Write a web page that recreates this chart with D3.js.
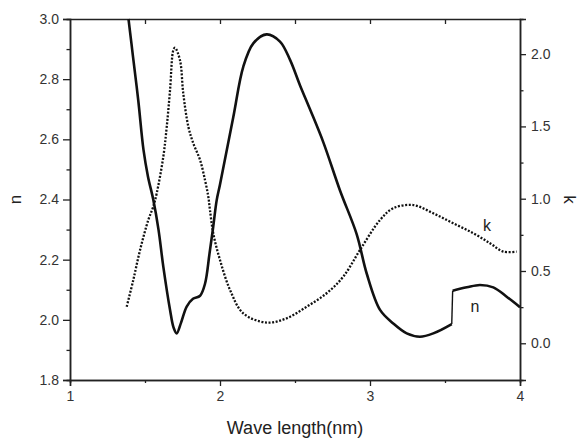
<!DOCTYPE html>
<html>
<head>
<meta charset="utf-8">
<script src="https://cdn.jsdelivr.net/npm/d3@7"></script>
<style>
  html, body { margin: 0; padding: 0; background: #fff; }
  svg { display: block; font-family: "Liberation Sans", Arial, sans-serif; }
</style>
</head>
<body>
<div id="chart"></div>
<script>
// refractive index n (left axis) vs wavelength
const nWave = [1.39, 1.41, 1.42, 1.455, 1.49, 1.52, 1.555, 1.59, 1.622, 1.667, 1.69, 1.711, 1.74, 1.778, 1.82, 1.867,
  1.90, 1.93, 1.955, 1.978, 2.0, 2.089, 2.155, 2.222, 2.311, 2.40, 2.467, 2.533, 2.60, 2.689, 2.80, 2.911, 2.978,
  3.067, 3.155, 3.245, 3.333, 3.422, 3.545, 3.551, 3.645, 3.733, 3.822, 3.911, 4.0];
const nValues = [3.00, 2.917, 2.875, 2.73, 2.565, 2.476, 2.40, 2.30, 2.177, 2.033, 1.975, 1.955, 1.99, 2.044, 2.07, 2.08,
  2.12, 2.22, 2.31, 2.398, 2.45, 2.675, 2.841, 2.919, 2.949, 2.925, 2.864, 2.78, 2.70, 2.59, 2.43, 2.285, 2.154,
  2.033, 1.988, 1.955, 1.944, 1.955, 1.986, 2.097, 2.108, 2.116, 2.108, 2.077, 2.042];

// extinction coefficient k (right axis)
const kWave = [1.378, 1.422, 1.467, 1.522, 1.555, 1.578, 1.622, 1.645, 1.667, 1.689, 1.70, 1.733, 1.755, 1.789, 1.822,
  1.867, 1.90, 1.922, 1.933, 1.955, 2.0, 2.067, 2.155, 2.311, 2.445, 2.578, 2.711, 2.822, 2.933, 3.067, 3.155, 3.289,
  3.422, 3.555, 3.689, 3.80, 3.889, 3.978];
const kValues = [0.253, 0.438, 0.645, 0.853, 0.945, 1.037, 1.29, 1.498, 1.752, 2.028, 2.044, 1.959, 1.729, 1.498, 1.383,
  1.268, 1.129, 1.014, 0.922, 0.761, 0.576, 0.369, 0.207, 0.143, 0.173, 0.253, 0.346, 0.461, 0.645, 0.853, 0.934, 0.956,
  0.899, 0.830, 0.761, 0.692, 0.634, 0.634];

const xTicks = [1, 2, 3, 4];
const xMinor = [1.5, 2.5, 3.5];
const nTicks = [1.8, 2.0, 2.2, 2.4, 2.6, 2.8, 3.0];
const nMinor = [1.9, 2.1, 2.3, 2.5, 2.7, 2.9];
const kTicks = [0.0, 0.5, 1.0, 1.5, 2.0];
const kMinor = [0.25, 0.75, 1.25, 1.75];

const width = 579, height = 439;
const margin = {top: 19, right: 59, bottom: 59, left: 70};
const axisColor = '#222';
const textColor = '#333';

const svg = d3.select('#chart').append('svg')
  .attr('width', width)
  .attr('height', height);

const x = d3.scaleLinear().domain([1, 4]).range([margin.left, width - margin.right]);
const yN = d3.scaleLinear().domain([1.8, 3.0]).range([height - margin.bottom, margin.top]);
const yK = d3.scaleLinear().domain([-0.254, 2.243]).range([height - margin.bottom, margin.top]);

function styleAxis(g) {
  g.select('.domain').attr('stroke', axisColor).attr('stroke-width', 1.5);
  g.selectAll('.tick line').attr('stroke', axisColor).attr('stroke-width', 1.3);
  g.selectAll('.tick text').attr('fill', textColor).style('font-size', '14px')
    .style('font-family', '"Liberation Sans", Arial, sans-serif');
}

const bottomY = height - margin.bottom;
const rightX = width - margin.right;

// bottom axis
svg.append('g')
  .attr('transform', `translate(0,${bottomY})`)
  .call(d3.axisBottom(x).tickValues(xTicks).tickSize(6).tickPadding(5).tickFormat(d3.format('d')))
  .call(styleAxis);
svg.append('g')
  .attr('transform', `translate(0,${bottomY})`)
  .call(d3.axisBottom(x).tickValues(xMinor).tickSize(3).tickFormat(''))
  .call(styleAxis);

// top axis, inward ticks
svg.append('g')
  .attr('transform', `translate(0,${margin.top})`)
  .call(d3.axisTop(x).tickValues([1.5, 2, 2.5, 3, 3.5]).tickSize(-5).tickSizeOuter(0).tickFormat(''))
  .call(styleAxis);

// left axis (n)
svg.append('g')
  .attr('transform', `translate(${margin.left},0)`)
  .call(d3.axisLeft(yN).tickValues(nTicks).tickSize(7).tickPadding(4).tickFormat(d3.format('.1f')))
  .call(styleAxis);
svg.append('g')
  .attr('transform', `translate(${margin.left},0)`)
  .call(d3.axisLeft(yN).tickValues(nMinor).tickSize(3.5).tickFormat(''))
  .call(styleAxis);

// right axis (k)
svg.append('g')
  .attr('transform', `translate(${rightX},0)`)
  .call(d3.axisRight(yK).tickValues(kTicks).tickSize(6).tickPadding(5).tickFormat(d3.format('.1f')))
  .call(styleAxis);
svg.append('g')
  .attr('transform', `translate(${rightX},0)`)
  .call(d3.axisRight(yK).tickValues(kMinor).tickSize(3.5).tickFormat(''))
  .call(styleAxis);

// curves
const nData = nWave.map((w, i) => ({x: w, y: nValues[i]}));
const kData = kWave.map((w, i) => ({x: w, y: kValues[i]}));

// n has a step near 3.55 nm: draw the smooth pieces separately and join them straight
const jump = nWave.findIndex((w, i) => i > 0 && w - nWave[i - 1] < 0.008);
const nPieces = [nData.slice(0, jump), nData.slice(jump)];

const nLine = d3.line()
  .x(d => x(d.x))
  .y(d => yN(d.y))
  .curve(d3.curveCatmullRom.alpha(0.5));

const kLine = d3.line()
  .x(d => x(d.x))
  .y(d => yK(d.y))
  .curve(d3.curveCatmullRom.alpha(0.5));

svg.append('path')
  .datum(kData)
  .attr('d', kLine)
  .attr('fill', 'none')
  .attr('stroke', '#111')
  .attr('stroke-width', 2.3)
  .attr('stroke-dasharray', '2,1.6');

svg.selectAll('path.n-piece')
  .data(nPieces)
  .join('path')
  .attr('class', 'n-piece')
  .attr('d', nLine)
  .attr('fill', 'none')
  .attr('stroke', '#111')
  .attr('stroke-width', 2.6)
  .attr('stroke-linejoin', 'round');

svg.append('path')
  .datum(nData.slice(jump - 1, jump + 1))
  .attr('d', d3.line().x(d => x(d.x)).y(d => yN(d.y)))
  .attr('fill', 'none')
  .attr('stroke', '#111')
  .attr('stroke-width', 1.4);

// curve labels
svg.append('text')
  .attr('x', x(3.78)).attr('y', yK(0.78))
  .attr('text-anchor', 'middle')
  .attr('fill', '#222')
  .style('font-size', '16px')
  .text('k');

svg.append('text')
  .attr('x', x(3.70)).attr('y', yN(2.025))
  .attr('text-anchor', 'middle')
  .attr('fill', '#222')
  .style('font-size', '16px')
  .text('n');

// axis titles
svg.append('text')
  .attr('x', (margin.left + rightX) / 2)
  .attr('y', 434)
  .attr('text-anchor', 'middle')
  .attr('fill', '#222')
  .style('font-size', '18px')
  .text('Wave length(nm)');

svg.append('text')
  .attr('transform', `translate(21,${(margin.top + bottomY) / 2}) rotate(-90)`)
  .attr('text-anchor', 'middle')
  .attr('fill', '#222')
  .style('font-size', '17px')
  .text('n');

svg.append('text')
  .attr('transform', `translate(564,${(margin.top + bottomY) / 2}) rotate(90)`)
  .attr('text-anchor', 'middle')
  .attr('fill', '#222')
  .style('font-size', '17px')
  .text('k');
</script>
</body>
</html>
